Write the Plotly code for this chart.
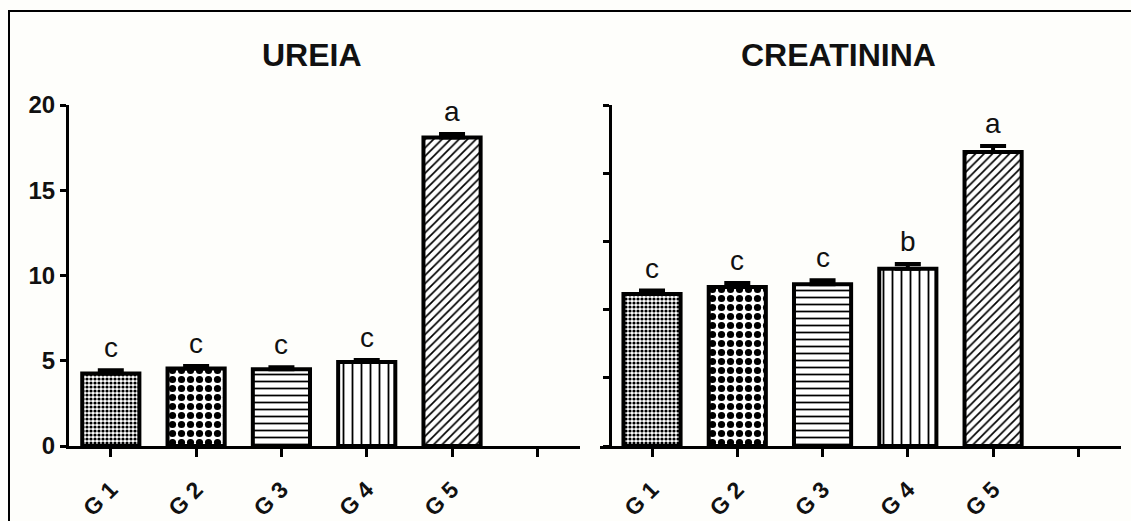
import plotly.graph_objects as go

# Groups and measured values (mean + upper SEM)
groups = ["G 1", "G 2", "G 3", "G 4", "G 5"]
ureia = [4.25, 4.55, 4.5, 4.92, 18.1]
ureia_err = [0.2, 0.14, 0.12, 0.13, 0.2]
ureia_letters = ["c", "c", "c", "c", "a"]

creatinina = [0.446, 0.466, 0.474, 0.52, 0.862]
creatinina_err = [0.01, 0.012, 0.012, 0.014, 0.018]
creatinina_letters = ["c", "c", "c", "b", "a"]

ureia_ticks = [0, 5, 10, 15, 20]
creatinina_ticks = [0, 0.2, 0.4, 0.6, 0.8, 1.0]

W, H = 1131, 521
FONT = "Liberation Sans, Arial, sans-serif"

shapes = [".", ".", "-", "|", "/"]
sizes = [4, 9, 7, 9, 6]
solid = [0.5, 0.5, 0.25, 0.2, 0.28]
xpos = list(range(len(groups)))


def bars(vals, errs, xa, ya):
    return go.Bar(
        x=xpos, y=vals, xaxis=xa, yaxis=ya, width=0.67,
        marker=dict(
            color="white",
            line=dict(color="black", width=4),
            pattern=dict(shape=shapes, size=sizes, solidity=solid,
                         fgcolor="black", bgcolor="white", fillmode="replace"),
        ),
        error_y=dict(type="data", array=errs, arrayminus=[0] * len(errs),
                     symmetric=False, color="black", thickness=4, width=13),
        showlegend=False, hoverinfo="skip",
    )


fig = go.Figure()
fig.add_trace(bars(ureia, ureia_err, "x", "y"))
fig.add_trace(bars(creatinina, creatinina_err, "x2", "y2"))

xcommon = dict(
    tickmode="array", tickvals=list(range(6)), ticktext=groups + [""],
    tickangle=-45, ticks="outside", ticklen=8, tickwidth=3, tickcolor="black",
    showline=True, linewidth=3, linecolor="black", showgrid=False, zeroline=False,
    automargin=False, ticklabelstandoff=10,
    tickfont=dict(family=FONT, size=23, color="#111", weight="bold"),
)
ycommon = dict(
    ticks="outside", ticklen=6, tickwidth=3, tickcolor="black",
    showline=True, linewidth=3, linecolor="black", showgrid=False, zeroline=False,
    automargin=False,
    tickfont=dict(family=FONT, size=24, color="#111", weight="bold"),
)

ybot, ytop = (H - 446) / H, (H - 105) / H

fig.update_layout(
    width=W, height=H,
    margin=dict(l=0, r=0, t=0, b=0, pad=0, autoexpand=False),
    paper_bgcolor="#fefefb", plot_bgcolor="rgba(0,0,0,0)",
    bargap=0.35,
    xaxis=dict(domain=[69 / W, 580 / W], range=[-0.49, 5.5], anchor="y", **xcommon),
    yaxis=dict(domain=[ybot, ytop], range=[0, 20], tickvals=ureia_ticks,
               anchor="x", **ycommon),
    xaxis2=dict(domain=[600 / W, 1121 / W], range=[-0.61, 5.5], anchor="y2", **xcommon),
    yaxis2=dict(domain=[ybot, ytop], range=[0, 1.0], tickvals=creatinina_ticks,
                anchor="free", position=610 / W, showticklabels=False, **ycommon),
)

title_font = dict(family=FONT, size=32, color="#111", weight="bold")
annotations = [
    dict(text="UREIA", x=312 / W, y=(H - 55) / H, xref="paper", yref="paper",
         xanchor="center", yanchor="middle", showarrow=False, font=title_font),
    dict(text="CREATININA", x=838 / W, y=(H - 55) / H, xref="paper", yref="paper",
         xanchor="center", yanchor="middle", showarrow=False, font=title_font),
]
for xs, ys, es, letters, xr, yr in [
    (xpos, ureia, ureia_err, ureia_letters, "x", "y"),
    (xpos, creatinina, creatinina_err, creatinina_letters, "x2", "y2"),
]:
    for xi, yi, ei, lt in zip(xs, ys, es, letters):
        annotations.append(dict(
            text=lt, x=xi, y=yi + ei, xref=xr, yref=yr, showarrow=False,
            xanchor="center", yanchor="bottom", yshift=5,
            font=dict(family=FONT, size=28, color="#111"),
        ))
fig.update_layout(annotations=annotations)

# Outer frame around the figure
fig.add_shape(type="rect", xref="paper", yref="paper",
              x0=9 / W, x1=1.2, y0=-0.2, y1=(H - 11) / H,
              line=dict(color="black", width=2), fillcolor="rgba(0,0,0,0)")

fig.write_html("out.html")
